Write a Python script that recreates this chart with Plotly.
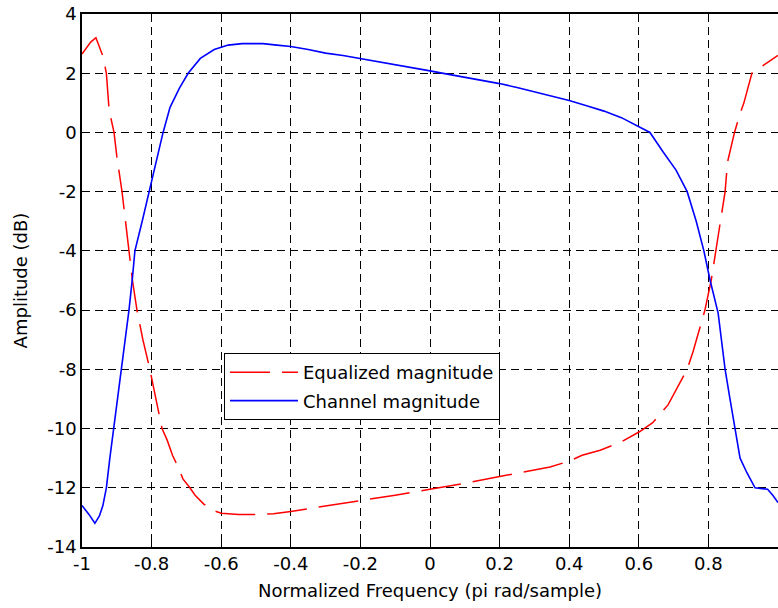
import plotly.graph_objects as go

# Channel magnitude (blue)
blue_x = [-1, -0.98, -0.963, -0.95, -0.94, -0.93, -0.92, -0.91, -0.9, -0.888, -0.875, -0.865,
          -0.855, -0.848, -0.827, -0.807, -0.787, -0.767, -0.747, -0.72, -0.695, -0.66, -0.62,
          -0.58, -0.54, -0.48, -0.44, -0.4, -0.35, -0.3, -0.25, -0.2, -0.15, -0.1, -0.05, 0,
          0.05, 0.1, 0.15, 0.2, 0.25, 0.3, 0.35, 0.4, 0.45, 0.5, 0.55, 0.603, 0.632, 0.67,
          0.707, 0.739, 0.765, 0.787, 0.805, 0.828, 0.848, 0.862, 0.876, 0.891, 0.911, 0.934,
          0.97, 0.985, 1]
blue_y = [-12.6, -12.9, -13.2, -12.95, -12.6, -12.0, -11.0, -10.1, -9.2, -8.0, -6.9, -6.0,
          -4.9, -4.0, -3.0, -2.0, -1.0, 0.0, 0.85, 1.5, 2.0, 2.5, 2.8,
          2.95, 3.0, 3.0, 2.95, 2.9, 2.8, 2.68, 2.6, 2.5, 2.38, 2.3, 2.2, 2.08,
          1.97, 1.87, 1.76, 1.65, 1.52, 1.38, 1.24, 1.08, 0.9, 0.72, 0.5, 0.18, 0.0, -0.66,
          -1.27, -2.0, -3.0, -4.0, -5.0, -6.1, -8.0, -9.0, -10.0, -11.0, -11.5, -12.0,
          -12.05, -12.25, -12.5]

# Equalized magnitude (red)
red_x = [-1, -0.99, -0.975, -0.96, -0.948, -0.94, -0.93, -0.922, -0.908, -0.9, -0.885, -0.875,
         -0.865, -0.855, -0.842, -0.825, -0.805, -0.787, -0.77, -0.755, -0.74, -0.72, -0.71,
         -0.69, -0.675, -0.65, -0.62, -0.6, -0.55, -0.5, -0.45, -0.4, -0.3, -0.2, -0.1, 0,
         0.1, 0.2, 0.3, 0.345, 0.4, 0.437, 0.489, 0.55, 0.603, 0.64, 0.684, 0.707, 0.739,
         0.756, 0.775, 0.79, 0.808, 0.822, 0.835, 0.848, 0.855, 0.875, 0.89, 0.902, 0.925,
         0.95, 0.975, 1]
red_y = [2.65, 2.8, 3.05, 3.2, 2.8, 2.58, 2.0, 0.75, 0.0, -0.8, -2.0, -3.0,
         -4.0, -5.0, -6.0, -7.0, -8.0, -9.0, -10.0, -10.4, -10.9, -11.4, -11.7,
         -12.0, -12.25, -12.55, -12.78, -12.86, -12.9, -12.9, -12.88, -12.8, -12.62, -12.45, -12.25, -12.05,
         -11.85, -11.62, -11.4, -11.3, -11.1, -10.9, -10.73, -10.45, -10.1, -9.8, -9.2, -8.7, -8.0,
         -7.4, -6.6, -6.0, -5.0, -4.0, -3.0, -2.0, -1.0, 0.0, 0.6, 1.0, 2.0,
         2.2, 2.4, 2.6]

x_ticks = [-1, -0.8, -0.6, -0.4, -0.2, 0, 0.2, 0.4, 0.6, 0.8, 1]
x_labels = ["-1", "-0.8", "-0.6", "-0.4", "-0.2", "0", "0.2", "0.4", "0.6", "0.8", "1"]
y_ticks = [-14, -12, -10, -8, -6, -4, -2, 0, 2, 4]
y_labels = ["-14", "-12", "-10", "-8", "-6", "-4", "-2", "0", "2", "4"]

FONT = "DejaVu Sans"

fig = go.Figure()
fig.add_trace(go.Scatter(x=red_x, y=red_y, mode="lines", name="Equalized magnitude",
                         line=dict(color="#ff0000", width=1.5, dash="40px,12px"),
                         legendgroup="a"))
fig.add_trace(go.Scatter(x=blue_x, y=blue_y, mode="lines", name="Channel magnitude",
                         line=dict(color="#0000ff", width=1.6),
                         legendgroup="b"))

axis_common = dict(
    showgrid=True, gridcolor="black", gridwidth=1.2, griddash="8px,5px",
    zeroline=False, showline=True, linecolor="black", linewidth=1.5,
    ticks="inside", ticklen=5, tickcolor="black",
    tickfont=dict(family=FONT, size=18, color="black"),
)

fig.update_layout(
    width=778, height=608,
    margin=dict(l=82, r=0, t=14, b=61),
    paper_bgcolor="white", plot_bgcolor="white",
    font=dict(family=FONT, size=18, color="black"),
    xaxis=dict(range=[-1, 1], tickvals=x_ticks, ticktext=x_labels, mirror=True,
               title=dict(text="Normalized Frequency (pi rad/sample)",
                          font=dict(family=FONT, size=18), standoff=11),
               **axis_common),
    yaxis=dict(range=[-14, 4], tickvals=y_ticks, ticktext=y_labels, mirror=False,
               title=dict(text="Amplitude (dB)", font=dict(family=FONT, size=18), standoff=15),
               **axis_common),
    legend=dict(x=0.204, y=0.364, xanchor="left", yanchor="top",
                bgcolor="white", bordercolor="black", borderwidth=1,
                font=dict(family=FONT, size=18), tracegroupgap=2, itemwidth=68),
    showlegend=True,
)

fig.write_html("out.html")
